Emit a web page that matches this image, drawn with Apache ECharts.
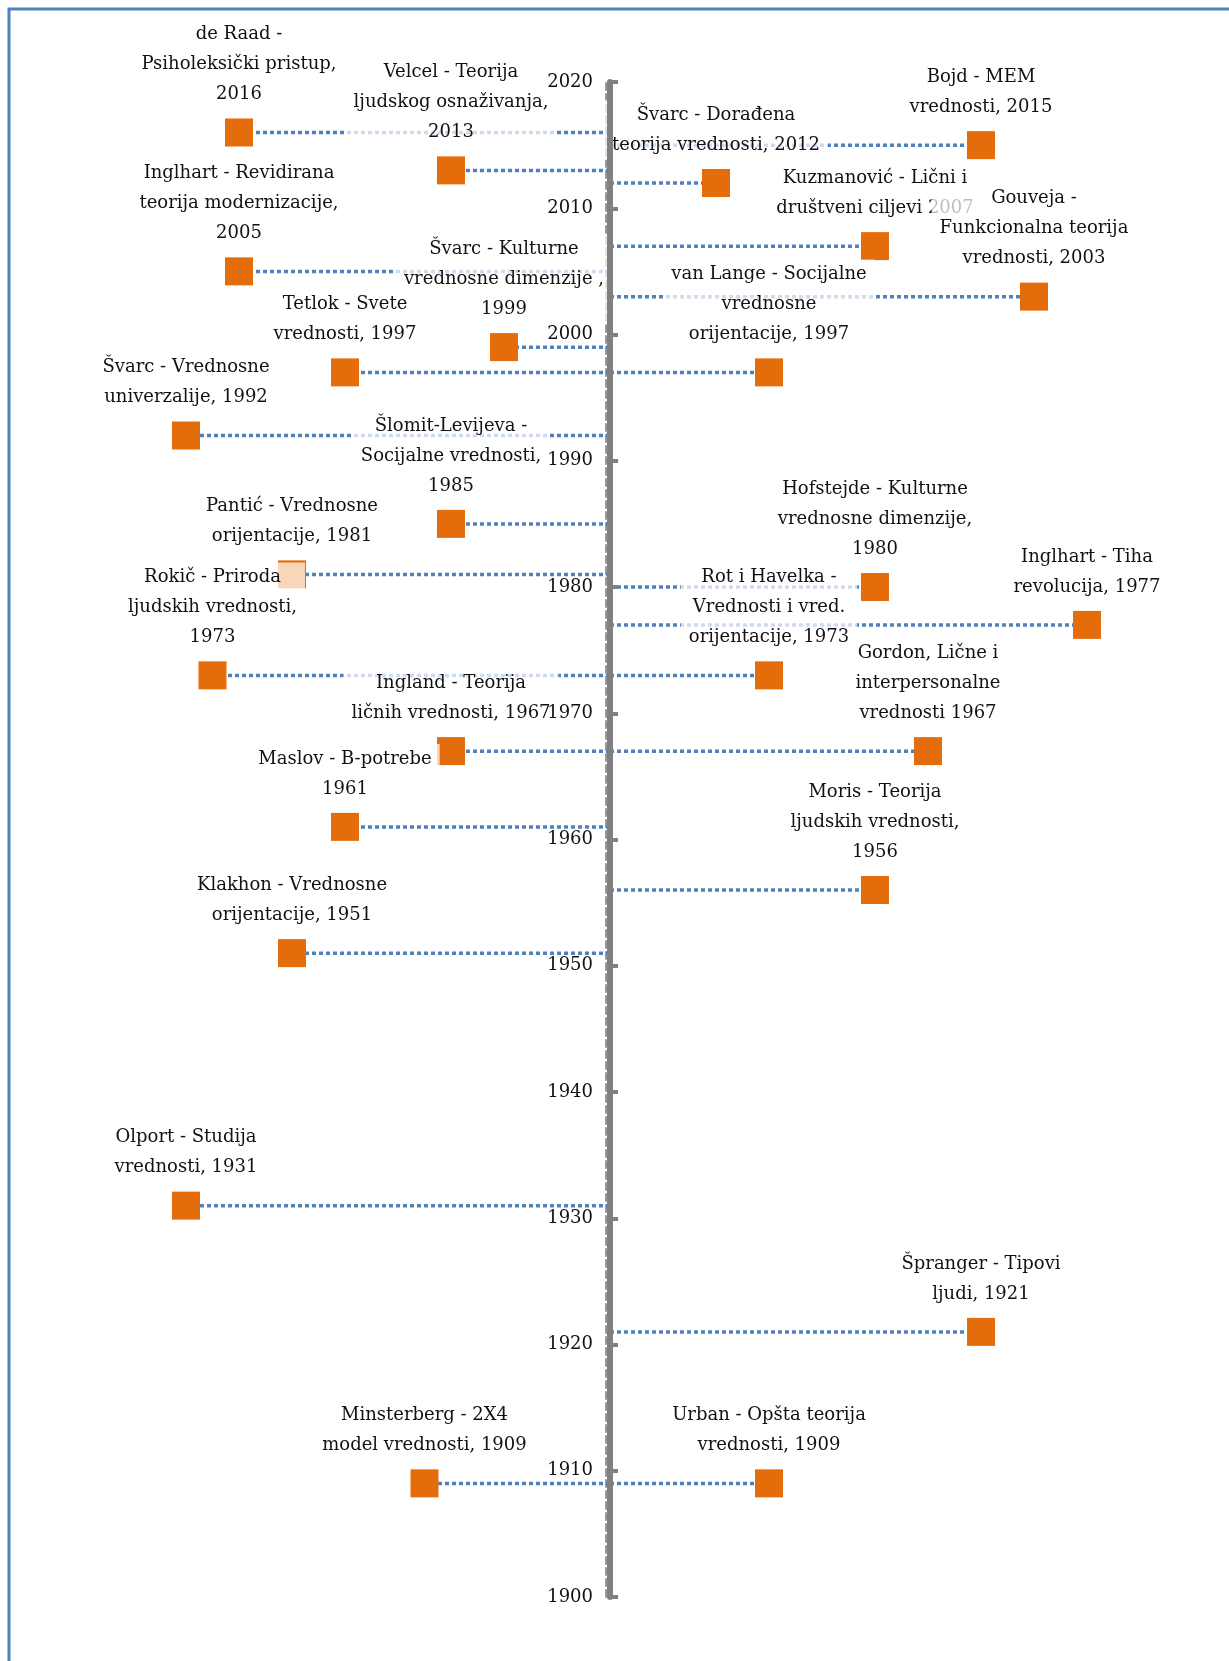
<!DOCTYPE html>
<html>
<head>
<meta charset="utf-8">
<script src="https://cdn.jsdelivr.net/npm/echarts@6/dist/echarts.min.js"></script>
<style>
  html, body { margin: 0; padding: 0; background: #fff; }
  #main { width: 1229px; height: 1661px; }
</style>
</head>
<body>
<div id="main"></div>
<script>
// teorije vrednosti - vremenska linija
var NAMES = [
    'de Raad -\nPsiholeksički pristup,\n2016',
    'Velcel - Teorija\nljudskog osnaživanja,\n2013',
    'Švarc - Dorađena\nteorija vrednosti, 2012',
    'Bojd - MEM\nvrednosti, 2015',
    'Kuzmanović - Lični i\ndruštveni ciljevi 2007',
    'Inglhart - Revidirana\nteorija modernizacije,\n2005',
    'Gouveja -\nFunkcionalna teorija\nvrednosti, 2003',
    'Švarc - Kulturne\nvrednosne dimenzije ,\n1999',
    'van Lange - Socijalne\nvrednosne\norijentacije, 1997',
    'Tetlok - Svete\nvrednosti, 1997',
    'Švarc - Vrednosne\nuniverzalije, 1992',
    'Šlomit-Levijeva -\nSocijalne vrednosti,\n1985',
    'Pantić - Vrednosne\norijentacije, 1981',
    'Hofstejde - Kulturne\nvrednosne dimenzije,\n1980',
    'Inglhart - Tiha\nrevolucija, 1977',
    'Rokič - Priroda\nljudskih vrednosti,\n1973',
    'Rot i Havelka -\nVrednosti i vred.\norijentacije, 1973',
    'Ingland - Teorija\nličnih vrednosti, 1967',
    'Gordon, Lične i\ninterpersonalne\nvrednosti 1967',
    'Maslov - B-potrebe\n1961',
    'Moris - Teorija\nljudskih vrednosti,\n1956',
    'Klakhon - Vrednosne\norijentacije, 1951',
    'Olport - Studija\nvrednosti, 1931',
    'Špranger - Tipovi\nljudi, 1921',
    'Minsterberg - 2X4\nmodel vrednosti, 1909',
    'Urban - Opšta teorija\nvrednosti, 1909'
]
// godine (y osa)
var YEARS = [2016, 2013, 2012, 2015, 2007, 2005, 2003, 1999, 1997, 1997, 1992, 1985, 1981,
    1980, 1977, 1973, 1973, 1967, 1967, 1961, 1956, 1951, 1931, 1921, 1909, 1909]
// pozicija levo/desno od ose (x osa)
var POS = [-7, -3, 2, 7, 5, -7, 8, -2, 3, -5, -8, -3, -6,
    5, 9, -7.5, 3, -3, 6, -5, 5, -6, -8, 7, -3.5, 3]
var YEAR_MIN = 1900
var YEAR_MAX = 2020
var YEAR_STEP = 10

var points = []
for (var i = 0; i < NAMES.length; i++) {
    points.push({ name: NAMES[i], value: [POS[i], YEARS[i]] })
}

var chart = echarts.init(document.getElementById('main'))
var FONT = '"DejaVu Serif", "Liberation Serif", serif'
var X_MIN = -11, X_MAX = 11
var GRID_LEFT = 27, GRID_RIGHT = 36
// y osa stoji na x = 0, pa je pomeramo u grid
var gridW = 1229 - GRID_LEFT - GRID_RIGHT
var axisOffset = -gridW * (0 - X_MIN) / (X_MAX - X_MIN)

option = {
    backgroundColor: '#fff',
    animation: false,
    graphic: [{
        // okvir stranice
        type: 'polyline',
        shape: { points: [[1240, 9], [9, 9], [9, 1670]] },
        style: { stroke: '#4F81BD', lineWidth: 3, fill: null }
    }],
    grid: {
        left: GRID_LEFT,
        right: GRID_RIGHT,
        top: 82,
        bottom: 64,
        containLabel: false,
        outerBoundsMode: 'none'
    },
    xAxis: {
        type: 'value',
        min: X_MIN,
        max: X_MAX,
        show: false
    },
    yAxis: [{
        type: 'value',
        min: YEAR_MIN,
        max: YEAR_MAX,
        interval: YEAR_STEP,
        position: 'left',
        offset: axisOffset,
        z: 4,
        axisLine: {
            show: true,
            onZero: false,
            lineStyle: { color: '#808080', width: 6 }
        },
        axisTick: {
            show: true,
            inside: true,
            length: 8,
            lineStyle: { color: '#808080', width: 4 }
        },
        axisLabel: {
            color: '#111',
            fontFamily: FONT,
            fontSize: 18,
            margin: 17,
            formatter: function (v) { return String(v) }
        },
        splitLine: { show: false }
    }, {
        // tanka isprekidana linija uz osu
        type: 'value',
        min: YEAR_MIN,
        max: YEAR_MAX,
        interval: YEAR_STEP,
        position: 'left',
        offset: axisOffset + 4,
        axisLine: {
            show: true,
            onZero: false,
            lineStyle: { color: '#999', width: 2, type: [7, 4] }
        },
        axisTick: { show: false },
        axisLabel: { show: false },
        splitLine: { show: false }
    }],
    series: [{
        // isprekidane linije do ose
        type: 'custom',
        z: 1,
        renderItem: function (params, api) {
            var p0 = api.coord([0, api.value(1)])
            var p1 = api.coord([api.value(0), api.value(1)])
            return {
                type: 'line',
                shape: { x1: p0[0], y1: p0[1], x2: p1[0], y2: p1[1] },
                style: { stroke: '#4F81BD', lineWidth: 3.5, lineDash: [4, 3] }
            }
        },
        data: points
    }, {
        type: 'scatter',
        z: 3,
        symbol: 'rect',
        symbolSize: 28,
        itemStyle: { color: '#E46C0A', opacity: 1 },
        label: {
            show: true,
            position: 'top',
            distance: 9,
            formatter: '{b}',
            color: '#111',
            fontFamily: FONT,
            fontSize: 18,
            lineHeight: 30,
            align: 'center',
            backgroundColor: 'rgba(255,255,255,0.72)',
            padding: [0, 8]
        },
        data: points
    }]
}
chart.setOption(option)
</script>
</body>
</html>
